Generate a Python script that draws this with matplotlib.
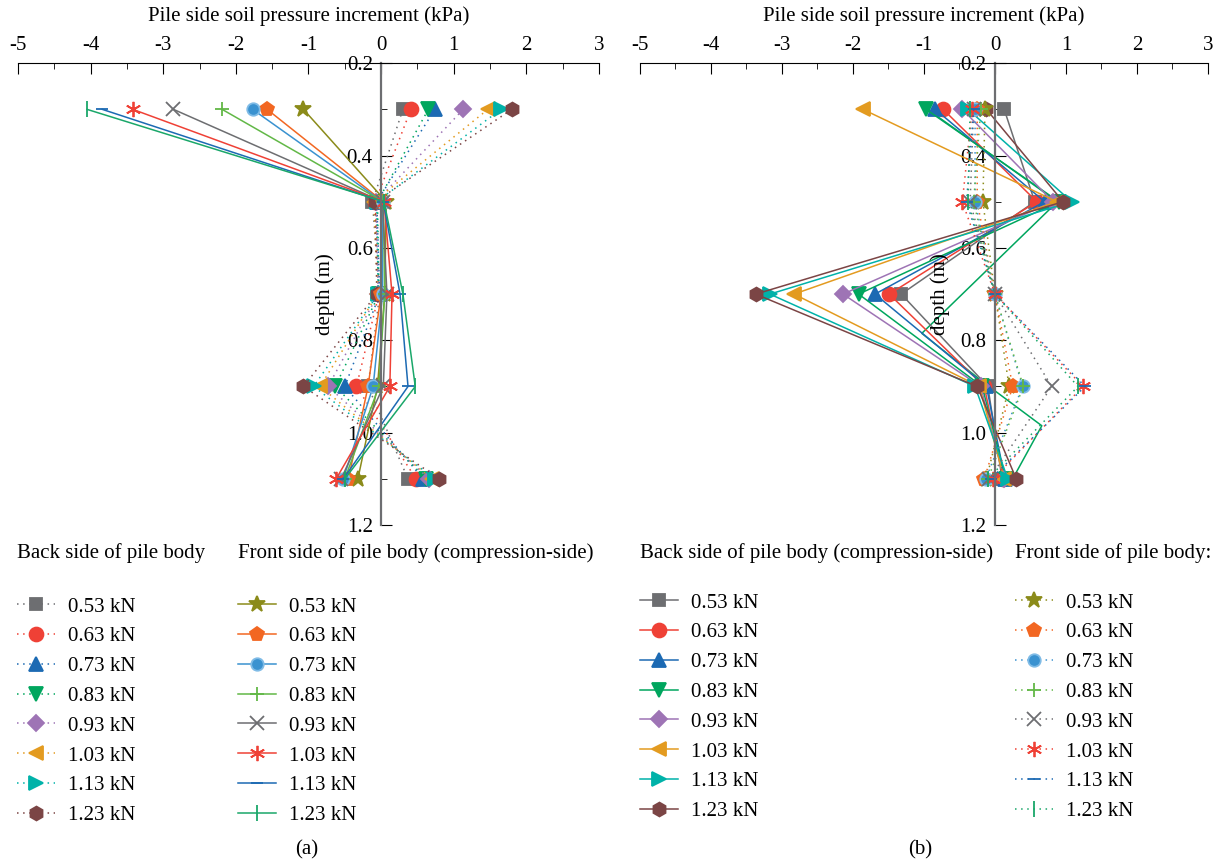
import matplotlib.pyplot as plt
from matplotlib.ticker import MultipleLocator

plt.rcParams['font.family'] = ['Liberation Serif', 'DejaVu Serif']
plt.rcParams['axes.unicode_minus'] = False

depth = [0.3, 0.5, 0.7, 0.9, 1.1]
loads = ['0.53 kN', '0.63 kN', '0.73 kN', '0.83 kN',
         '0.93 kN', '1.03 kN', '1.13 kN', '1.23 kN']

# (a) back side of pile, one row per load
a_back = [[0.30, -0.12, -0.02, -0.18, 0.37],
          [0.41, -0.08, -0.03, -0.34, 0.48],
          [0.74, -0.06, -0.02, -0.50, 0.58],
          [0.65, -0.05, -0.03, -0.63, 0.62],
          [1.13, -0.07, -0.04, -0.73, 0.66],
          [1.47, -0.10, -0.05, -0.84, 0.70],
          [1.65, -0.06, -0.04, -0.93, 0.74],
          [1.80, -0.08, -0.06, -1.07, 0.80]]
# (a) front side (compression side)
a_front = [[-1.07, 0.07, 0.05, -0.05, -0.32],
           [-1.57, 0.03, 0.00, -0.18, -0.45],
           [-1.77, 0.02, 0.02, -0.11, -0.52],
           [-2.19, 0.03, 0.05, -0.03, -0.50],
           [-2.86, 0.02, 0.08, 0.03, -0.55],
           [-3.42, 0.04, 0.15, 0.12, -0.62],
           [-3.84, 0.03, 0.26, 0.37, -0.52],
           [-4.05, 0.04, 0.30, 0.47, -0.50]]

# (b) back side (compression side)
b_back = [[0.13, 0.56, -1.32, -0.10, 0.10],
          [-0.73, 0.59, -1.49, -0.15, 0.12],
          [-0.84, 0.70, -1.69, -0.12, 0.14],
          [-0.97, 0.90, -1.92, -0.18, 0.15],
          [-0.46, 0.82, -2.14, -0.20, 0.13],
          [-1.86, 0.87, -2.83, -0.22, 0.13],
          [-0.38, 1.08, -3.17, -0.28, 0.18],
          [-0.12, 0.96, -3.37, -0.25, 0.30]]
# (b) front side
b_front = [[-0.14, -0.17, 0.00, 0.20, -0.12],
           [-0.25, -0.25, 0.00, 0.25, -0.15],
           [-0.28, -0.28, 0.00, 0.39, -0.13],
           [-0.20, -0.30, 0.00, 0.40, -0.10],
           [-0.30, -0.35, 0.00, 0.80, -0.08],
           [-0.32, -0.46, 0.00, 1.24, -0.03],
           [-0.30, -0.40, 0.00, 1.27, -0.06],
           [-0.35, -0.38, 0.00, 1.17, -0.10]]
# stray unmarked trace in (b)
b_extra = [-0.95, 0.88, -1.03, -0.17, 0.66, 0.25]
b_extra_depth = [0.3, 0.5, 0.785, 0.89, 0.985, 1.1]

back_colors = ['#6d6e71', '#ef4136', '#1c6ab3', '#00a65e',
               '#9e74b5', '#e39b20', '#00b2a9', '#7b4545']
back_markers = ['s', 'o', '^', 'v', 'D', '<', '>', 'h']
back_sizes = [9, 10, 10, 10, 8, 10, 10, 10]
front_colors = ['#8b8b1a', '#f26722', '#3a92d0', '#62b847',
                '#6d6e71', '#ef4136', '#1c6ab3', '#1aa76a']
front_markers = ['*', 'p', 'o', '+', 'x', (6, 2, 0), '_', '|']
front_sizes = [12, 10, 9, 10, 10, 11, 9, 11]

dotted = (0, (1, 3))
fs = 15


def setup(ax):
    ax.set_xlim(-5, 3)
    ax.set_ylim(1.2, 0.2)
    ax.spines['left'].set_position(('data', 0))
    ax.spines['left'].set_color('#6d6e71')
    ax.spines['left'].set_linewidth(1.6)
    ax.spines['right'].set_visible(False)
    ax.spines['bottom'].set_visible(False)
    ax.patch.set_visible(False)
    ax.xaxis.tick_top()
    ax.xaxis.set_label_position('top')
    ax.xaxis.set_major_locator(MultipleLocator(1))
    ax.xaxis.set_minor_locator(MultipleLocator(0.5))
    ax.yaxis.set_major_locator(MultipleLocator(0.2))
    ax.yaxis.set_minor_locator(MultipleLocator(0.1))
    ax.tick_params(which='major', direction='in', labelsize=fs, length=8, pad=6)
    ax.tick_params(which='minor', direction='in', length=4)
    ax.set_xlabel('Pile side soil pressure increment (kPa)', fontsize=fs, labelpad=11)
    ax.text(-0.77, 0.7, 'depth (m)', rotation=90, fontsize=fs,
            ha='center', va='center')


def draw(ax, rows, colors, markers, sizes, ls):
    lines = []
    for vals, c, m, s in zip(rows, colors, markers, sizes):
        mec = c
        if m == 'o' and c == '#3a92d0':
            mec = '#7fbbe6'
        ln, = ax.plot(vals, depth, color=c, ls=ls, lw=1.1, marker=m,
                      ms=s, mec=mec, mew=1.3, clip_on=False)
        lines.append(ln)
    return lines


def legend(fig, handles, x, y):
    fig.legend(handles, loads, loc='upper left', bbox_to_anchor=(x, y),
               bbox_transform=fig.transFigure, frameon=False, fontsize=fs,
               borderpad=0, borderaxespad=0, handlelength=1.8,
               handletextpad=0.65, labelspacing=0.49)


fig = plt.figure(figsize=(12.22, 8.65), dpi=100)
ax_a = fig.add_axes([0.0147, 0.393, 0.4755, 0.534])
ax_b = fig.add_axes([0.5237, 0.393, 0.4648, 0.534])

# (a)
setup(ax_a)
ha_back = draw(ax_a, a_back, back_colors, back_markers, back_sizes, dotted)
ha_front = draw(ax_a, a_front, front_colors, front_markers, front_sizes, '-')

# (b)
setup(ax_b)
ax_b.plot(b_extra, b_extra_depth, color='#00a65e', lw=1.1)
hb_back = draw(ax_b, b_back, back_colors, back_markers, back_sizes, '-')
hb_front = draw(ax_b, b_front, front_colors, front_markers, front_sizes, dotted)

# legend titles and legends under each panel
fig.text(17 / 1222, 1 - 553 / 865, 'Back side of pile body', fontsize=fs, va='center')
fig.text(238 / 1222, 1 - 553 / 865, 'Front side of pile body (compression-side)',
         fontsize=fs, va='center')
legend(fig, ha_back, 17 / 1222, 1 - 597 / 865)
legend(fig, ha_front, 238 / 1222, 1 - 597 / 865)

fig.text(640 / 1222, 1 - 553 / 865, 'Back side of pile body (compression-side)',
         fontsize=fs, va='center')
fig.text(1015 / 1222, 1 - 553 / 865, 'Front side of pile body:', fontsize=fs, va='center')
legend(fig, hb_back, 640 / 1222, 1 - 593 / 865)
legend(fig, hb_front, 1015 / 1222, 1 - 593 / 865)

fig.text(307 / 1222, 1 - 850 / 865, '(a)', fontsize=fs, ha='center', va='center')
fig.text(920 / 1222, 1 - 850 / 865, '(b)', fontsize=fs, ha='center', va='center')

fig.savefig('out.png', dpi=100)
